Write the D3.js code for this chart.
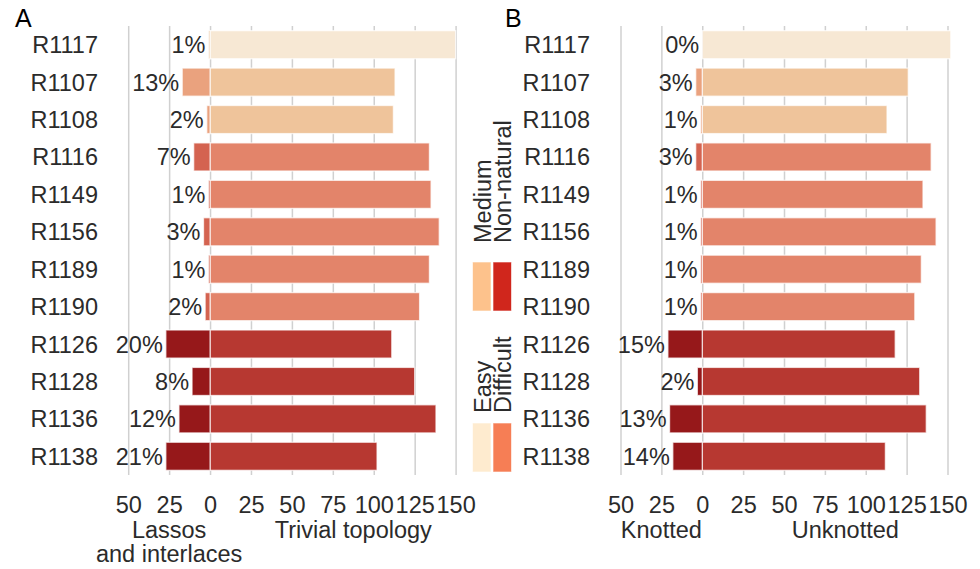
<!DOCTYPE html>
<html>
<head>
<meta charset="utf-8">
<script src="https://cdn.jsdelivr.net/npm/d3@7"></script>
<style>
  body { margin: 0; background: #fff; }
  text { font-family: "Liberation Sans", Arial, sans-serif; }
</style>
</head>
<body>
<svg id="chart" width="980" height="569"></svg>
<script>
// targets, top to bottom
const targets = ["R1117", "R1107", "R1108", "R1116", "R1149", "R1156",
                 "R1189", "R1190", "R1126", "R1128", "R1136", "R1138"];
const difficulty = ["Easy", "Medium", "Medium", "Difficult", "Difficult", "Difficult",
                    "Difficult", "Difficult", "Non-natural", "Non-natural", "Non-natural", "Non-natural"];

// panel A: lassos and interlaces vs trivial topology
const lassos  = [1, 17, 2, 10, 1, 4, 1, 3, 27, 11, 19, 27];
const trivial = [150, 113, 112, 134, 135, 140, 134, 128, 111, 125, 138, 102];

// panel B: knotted vs unknotted
const knotted   = [0, 4, 1, 4, 1, 1, 1, 1, 21, 3, 20, 18];
const unknotted = [152, 126, 113, 140, 135, 143, 134, 130, 118, 133, 137, 112];

const xTicks = [-50, -25, 0, 25, 50, 75, 100, 125, 150];
const levels = ["Easy", "Medium", "Difficult", "Non-natural"];

// colours
const posColor = d3.scaleOrdinal().domain(levels)
    .range(["#f7e8d4", "#efc49b", "#e3846a", "#b73831"]);
const negColor = d3.scaleOrdinal().domain(levels)
    .range(["#f0d2b2", "#eaa27e", "#d46350", "#96181a"]);
const keyColor = d3.scaleOrdinal().domain(levels)
    .range(["#feebcf", "#fdc28c", "#f67e55", "#d0261c"]);

const svg = d3.select("#chart");
const plotTop = 26, plotBottom = 475;
const textColor = "#2b2b2b";
const fs = 23.5;

function drawPanel(opts) {
    var x = d3.scaleLinear().domain([-50, 150]).range(opts.range);
    var y = d3.scaleBand().domain(targets).range([plotTop, plotBottom]).paddingInner(0.25).paddingOuter(0.125);
    var g = svg.append("g");

    // grid lines
    g.append("g")
        .attr("transform", "translate(0," + plotBottom + ")")
        .call(d3.axisBottom(x).tickValues(xTicks).tickSize(-(plotBottom - plotTop)).tickFormat(""))
        .call(s => s.select(".domain").remove())
        .call(s => s.selectAll("line").attr("stroke", "#d0d0d0").attr("stroke-width", 1.5));

    var rows = targets.map((t, i) => ({
        key: t, level: difficulty[i], neg: opts.neg[i], pos: opts.pos[i],
        pct: Math.round(100 * opts.neg[i] / (opts.neg[i] + opts.pos[i]))
    }));

    g.selectAll("rect.pos").data(rows).enter().append("rect")
        .attr("class", "pos")
        .attr("x", x(0))
        .attr("y", d => y(d.key))
        .attr("width", d => x(d.pos) - x(0))
        .attr("height", y.bandwidth())
        .attr("fill", d => posColor(d.level))
        .attr("stroke", "#fff").attr("stroke-opacity", 0.7).attr("stroke-width", 1.3);

    g.selectAll("rect.neg").data(rows.filter(d => d.neg > 0)).enter().append("rect")
        .attr("class", "neg")
        .attr("x", d => x(-d.neg))
        .attr("y", d => y(d.key))
        .attr("width", d => x(0) - x(-d.neg))
        .attr("height", y.bandwidth())
        .attr("fill", d => negColor(d.level))
        .attr("stroke", "#fff").attr("stroke-opacity", 0.7).attr("stroke-width", 1.3);

    // percentage labels
    g.selectAll("text.pct").data(rows).enter().append("text")
        .attr("class", "pct")
        .attr("x", d => x(-d.neg) - 3)
        .attr("y", d => y(d.key) + y.bandwidth() / 2 + 8.5)
        .attr("text-anchor", "end")
        .attr("font-size", fs)
        .attr("fill", textColor)
        .text(d => d.pct + "%");

    // target labels
    g.selectAll("text.target").data(targets).enter().append("text")
        .attr("class", "target")
        .attr("x", opts.labelX)
        .attr("y", d => y(d) + y.bandwidth() / 2 + 8.5)
        .attr("text-anchor", "end")
        .attr("font-size", fs)
        .attr("fill", textColor)
        .text(d => d);

    // tick labels
    g.append("g")
        .attr("transform", "translate(0,493)")
        .call(d3.axisBottom(x).tickValues(xTicks).tickSize(0).tickPadding(3).tickFormat(d => Math.abs(d)))
        .call(s => s.select(".domain").remove())
        .call(s => s.selectAll("text")
            .attr("font-size", fs).attr("fill", textColor)
            .style("font-family", '"Liberation Sans", Arial, sans-serif'));

    // axis titles
    opts.negTitle.forEach((line, i) => {
        g.append("text")
            .attr("x", x(-25)).attr("y", 538 + i * 24)
            .attr("text-anchor", "middle").attr("font-size", fs).attr("fill", textColor)
            .text(line);
    });
    g.append("text")
        .attr("x", x(87.5)).attr("y", 538)
        .attr("text-anchor", "middle").attr("font-size", fs).attr("fill", textColor)
        .text(opts.posTitle);

    // panel tag
    g.append("text")
        .attr("x", opts.tagX).attr("y", 27)
        .attr("font-size", 25).attr("fill", "#000")
        .text(opts.tag);
}

drawPanel({ range: [128.2, 455.6], neg: lassos, pos: trivial, labelX: 98,
            negTitle: ["Lassos", "and interlaces"], posTitle: "Trivial topology", tag: "A", tagX: 15 });
drawPanel({ range: [620.5, 947.5], neg: knotted, pos: unknotted, labelX: 590,
            negTitle: ["Knotted"], posTitle: "Unknotted", tag: "B", tagX: 505 });

// legend: two columns, two rows
const legendKeys = [
    { level: "Medium",      col: 0, row: 0 },
    { level: "Non-natural", col: 1, row: 0 },
    { level: "Easy",        col: 0, row: 1 },
    { level: "Difficult",   col: 1, row: 1 }
];
const colX = [472.5, 493], rowKeyY = [262, 423], rowLabelY = [243, 413], labelBase = [490.5, 510.5];
const legend = svg.append("g");
legend.selectAll("rect").data(legendKeys).enter().append("rect")
    .attr("x", d => colX[d.col]).attr("y", d => rowKeyY[d.row])
    .attr("width", 18.5).attr("height", 49)
    .attr("fill", d => keyColor(d.level))
    .attr("stroke", "#fff").attr("stroke-opacity", 0.6).attr("stroke-width", 1);
legend.selectAll("text").data(legendKeys).enter().append("text")
    .attr("transform", d => "translate(" + labelBase[d.col] + "," + rowLabelY[d.row] + ") rotate(-90)")
    .attr("font-size", fs).attr("fill", textColor)
    .text(d => d.level);
</script>
</body>
</html>
